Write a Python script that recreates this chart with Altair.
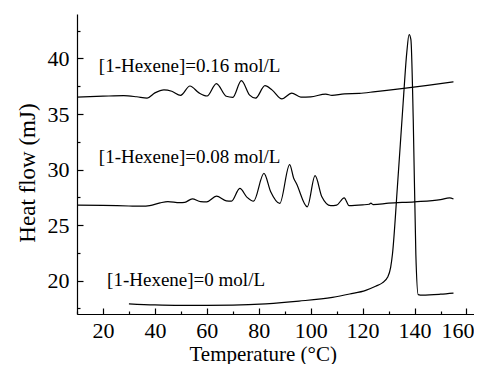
import altair as alt
import pandas as pd

# ---- data ----
temp_016 = [10, 20, 28, 33, 37, 40, 43.5, 46.5, 49.9, 53.5, 57, 60.1, 63.7, 67.5, 70, 73.3,
            76.5, 78.8, 82.4, 85.2, 88.9, 92.7, 96.2, 100, 105.8, 108.2, 113, 118.7, 125,
            136.6, 145, 155]
hf_016 = [36.52, 36.6, 36.65, 36.55, 36.43, 36.9, 37.18, 37.05, 36.68, 37.52, 36.9, 36.62,
          37.74, 36.6, 36.5, 38.0, 36.7, 36.43, 37.55, 37.15, 36.36, 36.88, 36.52, 36.55,
          36.79, 36.68, 36.82, 36.85, 37.02, 37.33, 37.58, 37.9]

temp_008 = [10, 20, 30, 35, 38, 42, 45, 49.5, 51.5, 54.4, 57.6, 60, 63.7, 67.5, 69.5, 72.7,
            75.5, 78, 82, 84.6, 88.1, 91.9, 93.5, 94.5, 98.7, 101.7, 104.3, 107.7, 110,
            112.9, 114.8, 120, 122.5, 123.2, 124, 130, 140, 150, 153.5, 155]
hf_008 = [26.8, 26.78, 26.72, 26.7, 26.75, 27.0, 27.12, 27.02, 27.05, 27.36, 27.12, 27.1,
          27.6, 27.18, 27.15, 28.3, 27.5, 27.15, 29.65, 28.0, 26.95, 30.45, 29.2, 28.75,
          26.65, 29.45, 27.55, 26.75, 26.8, 27.45, 26.75, 26.82, 26.88, 26.97, 26.85,
          26.97, 27.1, 27.3, 27.45, 27.35]

temp_0 = [30, 40, 50, 60, 70, 82.7, 95.5, 108.4, 115, 121.2, 125, 127.6, 129.6, 130.8, 131.5,
          133.4, 135.6, 137, 137.9, 138.6, 139.5, 140.5, 141.4, 143, 150, 155]
hf_0 = [17.92, 17.82, 17.78, 17.78, 17.8, 17.92, 18.16, 18.5, 18.8, 19.13, 19.5, 19.8, 20.3,
        21.2, 22.4, 28.45, 35.97, 40.5, 42.14, 41.7, 34.5, 22.4, 18.75, 18.7, 18.78, 18.88]

label_text = ["[1-Hexene]=0.16 mol/L", "[1-Hexene]=0.08 mol/L", "[1-Hexene]=0 mol/L"]
label_t = [18.4, 18.4, 21.6]
label_h = [38.78, 30.59, 19.52]

x_major = [20, 40, 60, 80, 100, 120, 140, 160]
x_minor = [10, 30, 50, 70, 90, 110, 130, 150]
y_major = [20, 25, 30, 35, 40]
y_minor = [17.5, 22.5, 27.5, 32.5, 37.5, 42.5]

# ---- tables ----
rows = []
for name, ts, hs in [("0.16", temp_016, hf_016), ("0.08", temp_008, hf_008), ("0", temp_0, hf_0)]:
    for i, (t, h) in enumerate(zip(ts, hs)):
        rows.append({"series": name, "T": t, "H": h, "order": i})
df = pd.DataFrame(rows)
lab = pd.DataFrame({"text": label_text, "T": label_t, "H": label_h})

FONT = "Liberation Serif"
W, H = 397, 300
xscale = alt.Scale(domain=[10, 162.9], nice=False, zero=False)
yscale = alt.Scale(domain=[17, 44], nice=False, zero=False)

lines = alt.Chart(df).mark_line(color="black", strokeWidth=1.2, interpolate="monotone", clip=True).encode(
    x=alt.X("T:Q", scale=xscale, axis=alt.Axis(
        orient="bottom", title="Temperature (°C)", values=x_major, ticks=False, tickSize=0,
        labelPadding=6, labelFontSize=22, labelFlush=False, labelOverlap=False,
        labelOffset={"condition": {"test": "datum.value === 160", "value": -9}, "value": 0},
        titleFontSize=21, titleX=185.7, titleY=46, titleBaseline="alphabetic", titleAlign="center",
        grid=False, domainColor="black", domainWidth=1.2)),
    y=alt.Y("H:Q", scale=yscale, axis=alt.Axis(
        orient="left", title="Heat flow (mJ)", values=y_major, ticks=False, tickSize=0,
        labelPadding=8, labelFontSize=22, labelFlush=False, labelOverlap=False,
        titleFontSize=23, titleX=-42.3, titleY=158.5, titleAngle=270, titleBaseline="alphabetic",
        titleAlign="center", grid=False, domainColor="black", domainWidth=1.2)),
    detail="series:N",
    order="order:Q",
)

texts = alt.Chart(lab).mark_text(align="left", baseline="alphabetic", font=FONT, fontSize=19, color="black").encode(
    x=alt.X("T:Q", scale=xscale, axis=alt.Axis(
        orient="top", offset=-H, values=x_major, labels=False, domain=False, ticks=True,
        tickSize=6, tickWidth=1.2, tickColor="black", title=None, grid=False)),
    y=alt.Y("H:Q", scale=yscale, axis=alt.Axis(
        orient="right", offset=-W, values=y_major, labels=False, domain=False, ticks=True,
        tickSize=6, tickWidth=1.2, tickColor="black", title=None, grid=False)),
    text="text:N",
)

minor = alt.Chart(lab).mark_point(opacity=0).encode(
    x=alt.X("T:Q", scale=xscale, axis=alt.Axis(
        orient="top", offset=-H, values=x_minor, labels=False, domain=False, ticks=True,
        tickSize=3, tickWidth=1.2, tickColor="black", title=None, grid=False)),
    y=alt.Y("H:Q", scale=yscale, axis=alt.Axis(
        orient="right", offset=-W, values=y_minor, labels=False, domain=False, ticks=True,
        tickSize=3, tickWidth=1.2, tickColor="black", title=None, grid=False)),
)

chart = alt.layer(lines, texts, minor).resolve_axis(x="independent", y="independent").properties(
    width=W, height=H, autosize="none",
    padding={"left": 69, "top": 6, "right": 0, "bottom": 50},
).configure_view(stroke=None).configure_axis(
    labelFont=FONT, titleFont=FONT, labelColor="black", titleColor="black", titleFontWeight="normal"
)

chart.save("out.html", embed_options={"renderer": "svg", "actions": False})
